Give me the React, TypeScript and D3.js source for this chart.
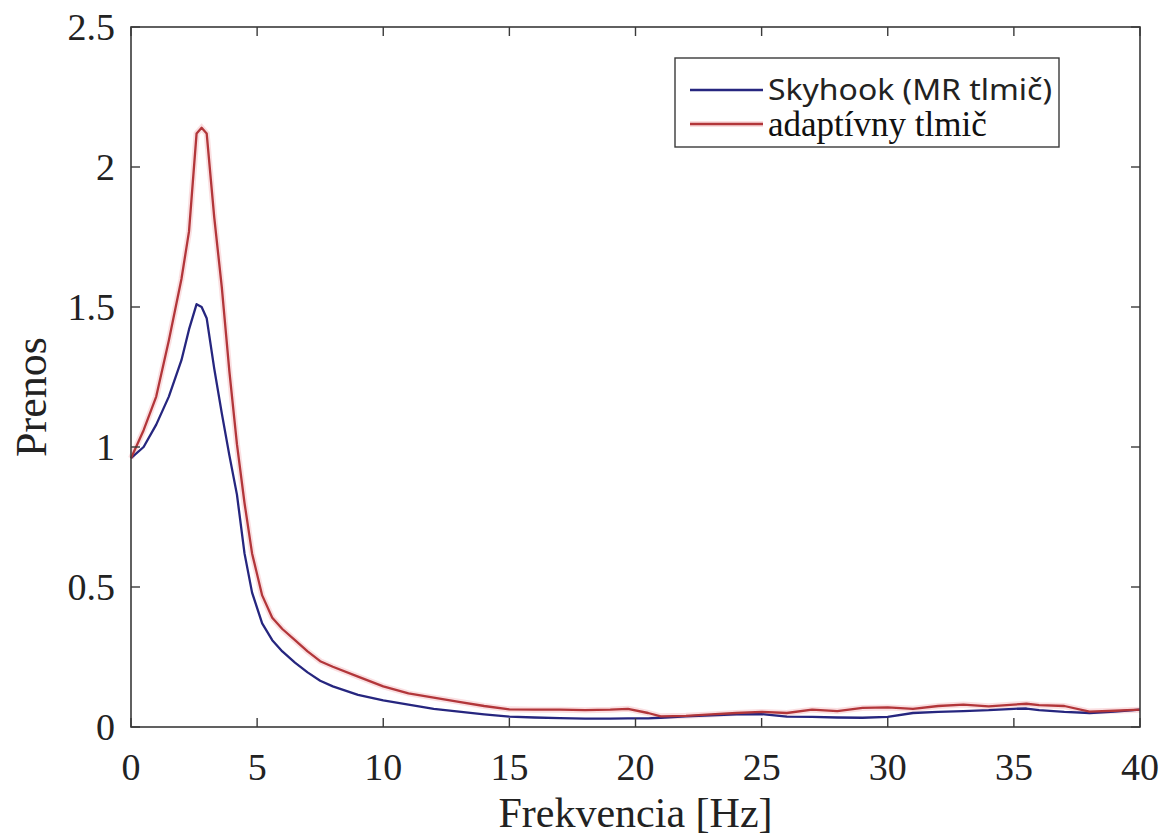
import { line, scaleLinear } from 'd3';
import React from 'react';

// frequency grid [Hz]
const freq = [
  0, 0.5, 1, 1.5, 2, 2.3, 2.6, 2.8, 3.0, 3.3, 3.6, 3.9, 4.2, 4.5, 4.8, 5.2, 5.6, 6, 6.5, 7, 7.5, 8, 9, 10,
  11, 12, 13, 14, 15, 16, 17, 18, 19, 19.7, 20.5, 21, 22, 23, 24, 25, 26, 27, 28, 29, 30, 31, 32, 33, 34,
  35, 35.5, 36, 37, 38, 39, 40,
];

const skyhook = [
  0.96, 1.0, 1.08, 1.18, 1.31, 1.42, 1.51, 1.5, 1.46, 1.28, 1.12, 0.97, 0.83, 0.62, 0.48, 0.37, 0.31, 0.27,
  0.23, 0.195, 0.165, 0.145, 0.115, 0.095, 0.08, 0.065, 0.055, 0.045, 0.037, 0.034, 0.032, 0.03, 0.03, 0.031,
  0.031, 0.033, 0.038, 0.042, 0.045, 0.046, 0.037, 0.036, 0.034, 0.033, 0.036, 0.05, 0.054, 0.057, 0.06,
  0.065, 0.066, 0.06, 0.054, 0.05, 0.055, 0.062,
];

const adaptive = [
  0.96, 1.06, 1.18, 1.38, 1.6, 1.77, 2.12, 2.14, 2.12, 1.82, 1.57, 1.27, 1.01, 0.8, 0.62, 0.47, 0.39, 0.35,
  0.31, 0.27, 0.235, 0.215, 0.18, 0.145, 0.12, 0.105, 0.09, 0.075, 0.063, 0.062, 0.062, 0.06, 0.062, 0.065,
  0.05, 0.038, 0.04, 0.045, 0.05, 0.054, 0.05, 0.062, 0.057, 0.068, 0.07, 0.065, 0.075, 0.08, 0.074, 0.08,
  0.083, 0.078, 0.075, 0.055, 0.058, 0.062,
];

const xTicks = [0, 5, 10, 15, 20, 25, 30, 35, 40];
const yTicks = [0, 0.5, 1, 1.5, 2, 2.5];
const seriesNames = ['Skyhook (MR tlmič)', 'adaptívny tlmič'];

const W = 1165;
const H = 837;
const left = 131;
const right = 1140;
const top = 27;
const bottom = 727;

const BLUE = '#26267f';
const RED = '#b2363a';
const AXIS = '#3a3a3a';
const serif = 'Liberation Serif';

const App = () => {
  const x = scaleLinear().domain([0, 40]).range([left, right]);
  const y = scaleLinear().domain([0, 2.5]).range([bottom, top]);

  const path = (vals: number[]) =>
    line<number>()
      .x((_, i) => x(freq[i]))
      .y((d) => y(d))(vals) || '';

  const tickLen = 9;

  return (
    <svg
      width={W}
      height={H}
      style={{ position: 'absolute', left: 0, top: 0, background: '#fff' }}
    >
      <rect x={0} y={0} width={W} height={H} fill="#fff" />

      {/* series */}
      <path d={path(adaptive)} fill="none" stroke="#f3b8bc" strokeOpacity={0.45} strokeWidth={6} />
      <path d={path(skyhook)} fill="none" stroke={BLUE} strokeWidth={2.3} strokeLinejoin="round" />
      <path d={path(adaptive)} fill="none" stroke={RED} strokeWidth={2.3} strokeLinejoin="round" />

      {/* axes box */}
      <rect x={left} y={top} width={right - left} height={bottom - top} fill="none" stroke={AXIS} strokeWidth={1.6} />

      {xTicks.map((t) => (
        <g key={'x' + t}>
          <line x1={x(t)} x2={x(t)} y1={bottom} y2={bottom - tickLen} stroke={AXIS} strokeWidth={1.4} />
          <line x1={x(t)} x2={x(t)} y1={top} y2={top + tickLen} stroke={AXIS} strokeWidth={1.4} />
          <text x={x(t)} y={780} textAnchor="middle" fontFamily={serif} fontSize={38} fill="#222">
            {t}
          </text>
        </g>
      ))}

      {yTicks.map((t) => (
        <g key={'y' + t}>
          <line x1={left} x2={left + tickLen} y1={y(t)} y2={y(t)} stroke={AXIS} strokeWidth={1.4} />
          <line x1={right} x2={right - tickLen} y1={y(t)} y2={y(t)} stroke={AXIS} strokeWidth={1.4} />
          <text
            x={115}
            y={y(t)}
            dy="0.34em"
            textAnchor="end"
            fontFamily={serif}
            fontSize={38}
            fill="#222"
          >
            {t}
          </text>
        </g>
      ))}

      {/* axis labels */}
      <text x={(left + right) / 2} y={827} textAnchor="middle" fontFamily={serif} fontSize={42} fill="#222">
        Frekvencia [Hz]
      </text>
      <text
        transform={`translate(46, 397) rotate(-90)`}
        textAnchor="middle"
        fontFamily={serif}
        fontSize={44}
        fill="#222"
      >
        Prenos
      </text>

      {/* legend */}
      <rect x={675} y={58} width={384} height={89} fill="#fff" stroke={AXIS} strokeWidth={1.4} />
      <line x1={690} x2={763} y1={90} y2={90} stroke={BLUE} strokeWidth={2.3} />
      <line x1={690} x2={763} y1={124} y2={124} stroke="#f3b8bc" strokeOpacity={0.45} strokeWidth={6} />
      <line x1={690} x2={763} y1={124} y2={124} stroke={RED} strokeWidth={2.3} />
      <text
        x={768}
        y={100}
        fontFamily="Noto Sans"
        fontSize={29}
        textLength={284}
        lengthAdjust="spacingAndGlyphs"
        fill="#222"
      >
        {seriesNames[0]}
      </text>
      <text x={768} y={136} fontFamily={serif} fontSize={35} fill="#111">
        {seriesNames[1]}
      </text>
    </svg>
  );
};

export default App;
